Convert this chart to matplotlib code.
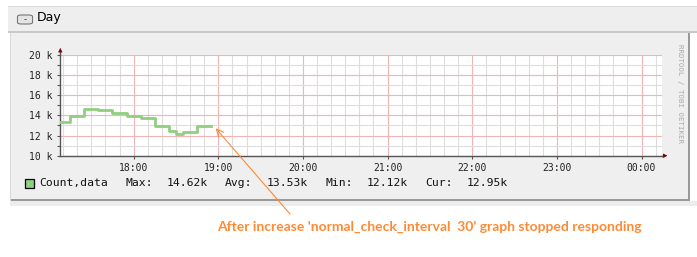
"""RRDtool style 'Day' graph with annotation."""
import matplotlib
matplotlib.use('Agg')
import matplotlib.pyplot as plt
import matplotlib.dates as mdates
from matplotlib.patches import Rectangle, FancyBboxPatch, FancyArrowPatch
from datetime import datetime

W, H = 697, 257

# step start times and values (k)
times = ['17:08', '17:15', '17:25', '17:35', '17:45', '17:55', '18:05',
         '18:15', '18:25', '18:30', '18:35', '18:45', '18:55']
values = [13.38, 13.97, 14.62, 14.54, 14.20, 13.90, 13.78,
          12.95, 12.45, 12.12, 12.38, 12.95, 12.95]
y_ticks = [10, 12, 14, 16, 18, 20]
legend_items = [('Count,data', 39.3), ('Max:', 125.7), ('14.62k', 166.7),
                ('Avg:', 225.0), ('13.53k', 266.7), ('Min:', 326.0),
                ('12.12k', 367.0), ('Cur:', 425.0), ('12.95k', 467.0)]
note = "After increase 'normal_check_interval  30' graph stopped responding"


def t(s):
    h, m = map(int, s.split(':'))
    day = 2 if h < 12 else 1
    return datetime(2013, 1, day, h, m)


def fx(px):
    return px / W


def fy(py):
    return 1 - py / H


fig = plt.figure(figsize=(W / 100, H / 100), dpi=100)
fig.patch.set_facecolor('white')


def rect(x0, y0, x1, y1, fc, ec='none', lw=0, z=0):
    fig.add_artist(Rectangle((fx(x0), fy(y1)), fx(x1) - fx(x0), fy(y0) - fy(y1),
                             transform=fig.transFigure, facecolor=fc,
                             edgecolor=ec, linewidth=lw, zorder=z))


# header bar
rect(8, 6, 697, 32, '#eeeeee')
rect(8, 6, 697, 7, '#dcdcdc')
rect(8, 31, 697, 32.5, '#c8c8c8')
# panel
rect(10, 32.5, 690, 201, '#efefef')
rect(688, 32.5, 690, 201, '#999999')
rect(10, 199, 690, 201, '#999999')
rect(10, 32.5, 11, 201, '#d8d8d8')
rect(10, 201, 697, 206, '#ececec')

# collapse button
fig.add_artist(FancyBboxPatch((fx(17.5), fy(24)), fx(15), fy(15) - fy(24),
                              boxstyle='round,pad=0,rounding_size=0.006',
                              transform=fig.transFigure, facecolor='#e4e4e4',
                              edgecolor='#777777', linewidth=0.8))
fig.text(fx(25), fy(19.5), '-', fontsize=6, ha='center', va='center', color='#333333')
fig.text(fx(37), fy(18), 'Day', fontsize=9, ha='left', va='center', color='black')

# plot area
left, right, top, bottom = 60.3, 662, 55, 155.7
ax = fig.add_axes([fx(left), fy(bottom), fx(right - left), fy(top) - fy(bottom)])
ax.set_facecolor('white')

xs = [t(s) for s in times]
ax.step(xs, values, where='post', color='#8fcf7f', linewidth=2, zorder=5)

ax.set_xlim(t('17:08'), datetime(2013, 1, 2, 0, 14, 30))
ax.set_ylim(10, 20)

ax.xaxis.set_major_locator(mdates.HourLocator())
ax.xaxis.set_minor_locator(mdates.MinuteLocator(byminute=[0, 10, 20, 30, 40, 50]))
ax.xaxis.set_major_formatter(mdates.DateFormatter('%H:%M'))
ax.set_yticks(y_ticks)
ax.set_yticklabels([f'{v} k' for v in y_ticks])
ax.set_yticks(range(11, 20, 2), minor=True)

ax.grid(which='minor', color='#dddddd', linewidth=0.8)
ax.grid(which='major', color='#f0b4b4', linewidth=0.8)
ax.set_axisbelow(True)

for sp in ['top', 'right']:
    ax.spines[sp].set_visible(False)
for sp in ['left', 'bottom']:
    ax.spines[sp].set_color('#555555')
    ax.spines[sp].set_linewidth(1)

ax.tick_params(which='both', direction='out', colors='#555555', length=2.5, width=0.8,
               labelsize=7, labelcolor='#222222', pad=3)
ax.tick_params(axis='x', which='minor', length=0)
for lab in ax.get_xticklabels() + ax.get_yticklabels():
    lab.set_family('DejaVu Sans Mono')

# axis arrows: gray extension plus dark red head
ax.plot([0, 0], [1, 1.04], transform=ax.transAxes, color='#555555', lw=1, clip_on=False)
ax.plot([1, 1.004], [0, 0], transform=ax.transAxes, color='#555555', lw=1, clip_on=False)
ax.annotate('', xy=(0, 1.07), xytext=(0, 1.035), xycoords='axes fraction',
            arrowprops=dict(arrowstyle='-|>', color='#7f0000', lw=0.5,
                            mutation_scale=6, shrinkA=0, shrinkB=0), annotation_clip=False)
ax.annotate('', xy=(1.009, 0), xytext=(1.003, 0), xycoords='axes fraction',
            arrowprops=dict(arrowstyle='-|>', color='#7f0000', lw=0.5,
                            mutation_scale=6, shrinkA=0, shrinkB=0), annotation_clip=False)

# watermark
fig.text(fx(680), fy(94), 'RRDTOOL / TOBI OETIKER', rotation=270, fontsize=5.3,
         family='DejaVu Sans Mono', color='#aaaaaa', ha='center', va='center')

# legend row
rect(25, 179, 33.7, 187.7, '#8fcf7f', ec='black', lw=0.9, z=3)
for label, xp in legend_items:
    fig.text(fx(xp), fy(183.3), label, fontsize=8.2, family='DejaVu Sans Mono',
             ha='left', va='center', color='#111111')

# annotation, sized to span the same width as in the screenshot
nt = fig.text(fx(217.3), fy(226.7), note, fontsize=10, fontweight='bold',
              family=['Lato', 'DejaVu Sans'], color='#ff8a33',
              ha='left', va='center')
r = fig.canvas.get_renderer()
wpx = nt.get_window_extent(r).width
nt.set_fontsize(10 * 423.0 / wpx)
fig.add_artist(FancyArrowPatch(
    (fx(290), fy(214)), (fx(215.7), fy(128.3)), transform=fig.transFigure,
    arrowstyle='->,head_length=0.5,head_width=0.25', color='#ff8a33', lw=0.8,
    mutation_scale=10, shrinkA=0, shrinkB=0))

fig.savefig('out.png', dpi=100)
